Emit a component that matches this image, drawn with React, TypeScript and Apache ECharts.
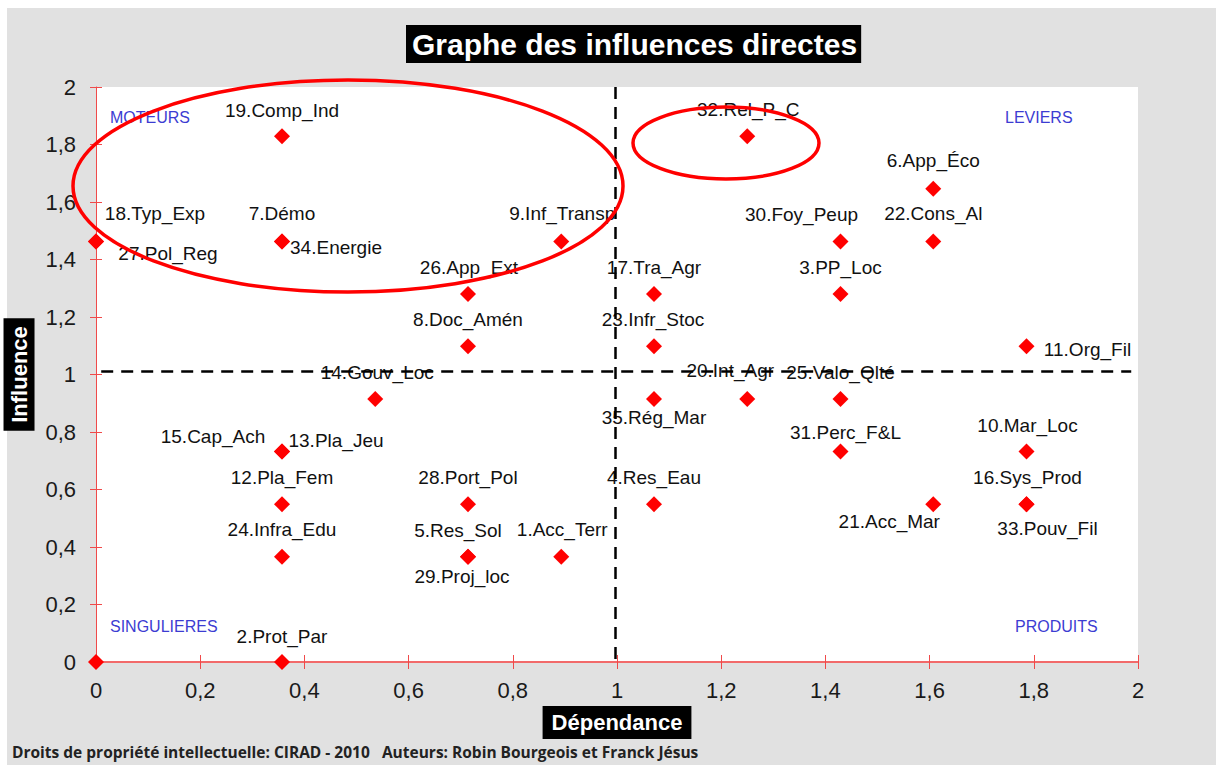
import React, { useEffect, useRef } from 'react';
import * as echarts from 'echarts';

// ---- Data ----
const names = ['19.Comp_Ind', '18.Typ_Exp', '27.Pol_Reg', '7.Démo', '34.Energie', '9.Inf_Transp', '26.App_Ext', '8.Doc_Amén', '14.Gouv_Loc', '15.Cap_Ach', '13.Pla_Jeu', '12.Pla_Fem', '24.Infra_Edu', '28.Port_Pol', '5.Res_Sol', '29.Proj_loc', '1.Acc_Terr', '2.Prot_Par', '', '32.Rel_P_C', '6.App_Éco', '30.Foy_Peup', '22.Cons_Al', '17.Tra_Agr', '3.PP_Loc', '23.Infr_Stoc', '11.Org_Fil', '35.Rég_Mar', '20.Int_Agr', '25.Valo_Qlté', '31.Perc_F&L', '10.Mar_Loc', '4.Res_Eau', '21.Acc_Mar', '16.Sys_Prod', '33.Pouv_Fil'];
const dependance = [0.357, 0, 0, 0.357, 0.357, 0.893, 0.714, 0.714, 0.536, 0.357, 0.357, 0.357, 0.357, 0.714, 0.714, 0.714, 0.893, 0.357, 0, 1.25, 1.607, 1.429, 1.607, 1.071, 1.429, 1.071, 1.786, 1.071, 1.25, 1.429, 1.429, 1.786, 1.071, 1.607, 1.786, 1.786];
const influence = [1.829, 1.463, 1.463, 1.463, 1.463, 1.463, 1.28, 1.098, 0.915, 0.732, 0.732, 0.549, 0.366, 0.549, 0.366, 0.366, 0.366, 0, 0, 1.829, 1.646, 1.463, 1.463, 1.28, 1.28, 1.098, 1.098, 0.915, 0.915, 0.915, 0.732, 0.732, 0.549, 0.549, 0.549, 0.549];
const xTickLabels = ['0', '0,2', '0,4', '0,6', '0,8', '1', '1,2', '1,4', '1,6', '1,8', '2'];
const yTickLabels = ['0', '0,2', '0,4', '0,6', '0,8', '1', '1,2', '1,4', '1,6', '1,8', '2'];
const quadrantNames = ['MOTEURS', 'LEVIERS', 'SINGULIERES', 'PRODUITS'];
const thresholdX = 0.997;
const thresholdY = 1.013;
const titleText = 'Graphe des influences directes';
const xName = 'Dépendance';
const yName = 'Influence';
const footer = 'Droits de propriété intellectuelle: CIRAD - 2010   Auteurs: Robin Bourgeois et Franck Jésus';

// ---- Layout (label offsets relative to each marker) ----
const labelOffsets: number[][] = [
  [0, -26], [59, -28], [72, 12], [0, -28], [54, 6], [1, -28], [1, -27], [0, -27], [2, -26], [-69, -15],
  [54, -11], [0, -27], [0, -27], [0, -27], [-10, -26], [-6, 20], [1, -27], [0, -26], [0, 0], [1, -27],
  [0, -28], [-39, -27], [0, -28], [0, -27], [0, -27], [-1, -27], [61, 3], [0, 19], [-17, -28], [0, -26],
  [5, -19], [1, -26], [0, -27], [-44, 17], [1, -27], [21, 24],
];
const quadrantPos: number[][] = [[110, 109], [1005, 109], [110, 618], [1015, 618]];

const FONT = '"Liberation Sans", Arial, sans-serif';

export default function App() {
  const ref = useRef<HTMLDivElement>(null);
  useEffect(() => {
    if (!ref.current) return;
    const chart = echarts.init(ref.current, null, { renderer: 'svg' });
    const fmt = (labels: string[]) => (v: number) => labels[Math.round(v / 0.2)] ?? '';
    const data = names.map((n, i) => ({
      name: n,
      value: [dependance[i], influence[i]],
      label: {
        show: n !== '',
        position: 'inside',
        offset: labelOffsets[i],
      },
    }));
    const baseX = {
      type: 'value', min: 0, max: 2, interval: 0.2, position: 'bottom',
      splitLine: { show: false },
    };
    const baseY = {
      type: 'value', min: 0, max: 2, interval: 0.2, position: 'left',
      splitLine: { show: false },
    };
    chart.setOption({
      animation: false,
      title: {
        text: titleText,
        left: 406, top: 25,
        backgroundColor: '#000',
        padding: [3, 4, 3, 6],
        textStyle: { color: '#fff', fontSize: 30, fontWeight: 'bold', fontFamily: FONT, lineHeight: 32 },
      },
      grid: {
        left: 96, right: 78, top: 87, bottom: 103,
        outerBoundsMode: 'none',
        containLabel: false,
        show: true, backgroundColor: '#fff', borderWidth: 0,
      },
      xAxis: [
        {
          ...baseX,
          name: xName,
          nameLocation: 'middle',
          nameGap: 42,
          nameTextStyle: {
            color: '#fff', backgroundColor: '#000', fontSize: 22, fontWeight: 'bold', fontFamily: FONT,
            padding: [6, 9, 5, 9],
          },
          axisLine: { show: true, lineStyle: { color: '#f26a6a', width: 2 } },
          axisTick: { show: true, inside: false, length: 7, lineStyle: { color: '#f04a4a', width: 1 } },
          axisLabel: { formatter: fmt(xTickLabels), color: '#1a1a1a', fontSize: 22, fontFamily: FONT, margin: 17 },
        },
        {
          ...baseX,
          axisLine: { show: false },
          axisTick: { show: true, inside: true, length: 7, lineStyle: { color: '#f04a4a', width: 1 } },
          axisLabel: { show: false },
        },
      ],
      yAxis: [
        {
          ...baseY,
          name: yName,
          nameLocation: 'middle',
          nameGap: 58,
          nameRotate: 90,
          nameTextStyle: {
            color: '#fff', backgroundColor: '#000', fontSize: 22, fontWeight: 'bold', fontFamily: FONT,
            padding: [5, 8, 4, 8],
          },
          axisLine: { show: true, lineStyle: { color: '#f04a4a', width: 1 } },
          axisTick: { show: true, inside: false, length: 6, lineStyle: { color: '#f04a4a', width: 1 } },
          axisLabel: { formatter: fmt(yTickLabels), color: '#1a1a1a', fontSize: 22, fontFamily: FONT, margin: 20 },
        },
        {
          ...baseY,
          axisLine: { show: false },
          axisTick: { show: true, inside: true, length: 6, lineStyle: { color: '#f04a4a', width: 1 } },
          axisLabel: { show: false },
        },
      ],
      series: [
        {
          type: 'scatter',
          xAxisIndex: 0,
          yAxisIndex: 0,
          symbol: 'diamond',
          symbolSize: [16, 16],
          clip: false,
          itemStyle: { color: '#ff0000', opacity: 1 },
          label: {
            color: '#111', fontSize: 19, fontFamily: FONT,
            textBorderWidth: 0, textBorderColor: 'transparent',
            formatter: (p: any) => p.name,
          },
          data,
          z: 3,
          markLine: {
            silent: true,
            symbol: 'none',
            label: { show: false },
            lineStyle: { color: '#000', width: 2.5, type: [12, 8] },
            data: [
              [{ coord: [thresholdX, 2] }, { coord: [thresholdX, 0] }],
              [{ coord: [0.01, thresholdY] }, { coord: [1.987, thresholdY] }],
            ],
          },
        },
      ],
      graphic: [
        ...quadrantNames.map((q, i) => ({
          type: 'text',
          x: quadrantPos[i][0], y: quadrantPos[i][1],
          z: 10,
          style: { text: q, fill: '#3c3cd2', fontSize: 16, fontFamily: FONT },
        })),
        {
          type: 'ellipse', z: 20,
          shape: { cx: 348, cy: 186, rx: 275, ry: 106 },
          style: { fill: 'none', stroke: '#ff0000', lineWidth: 3.5 },
        },
        {
          type: 'ellipse', z: 20,
          shape: { cx: 726, cy: 143, rx: 93, ry: 36 },
          style: { fill: 'none', stroke: '#ff0000', lineWidth: 3.5 },
        },
        {
          type: 'text', x: 12, y: 744, z: 10,
          style: { text: footer, fill: '#222', fontSize: 15.5, fontWeight: 'bold', fontFamily: '"Open Sans", sans-serif' },
        },
      ],
    });
    return () => chart.dispose();
  }, []);

  return (
    <div style={{ position: 'fixed', left: 0, top: 0, width: 1216, height: 765, background: '#fff', overflow: 'hidden' }}>
      <div style={{ position: 'absolute', left: 7, top: 8, width: 1209, height: 757, background: '#e1e1e1' }} />
      <div ref={ref} style={{ position: 'absolute', left: 0, top: 0, width: 1216, height: 765 }} />
    </div>
  );
}
